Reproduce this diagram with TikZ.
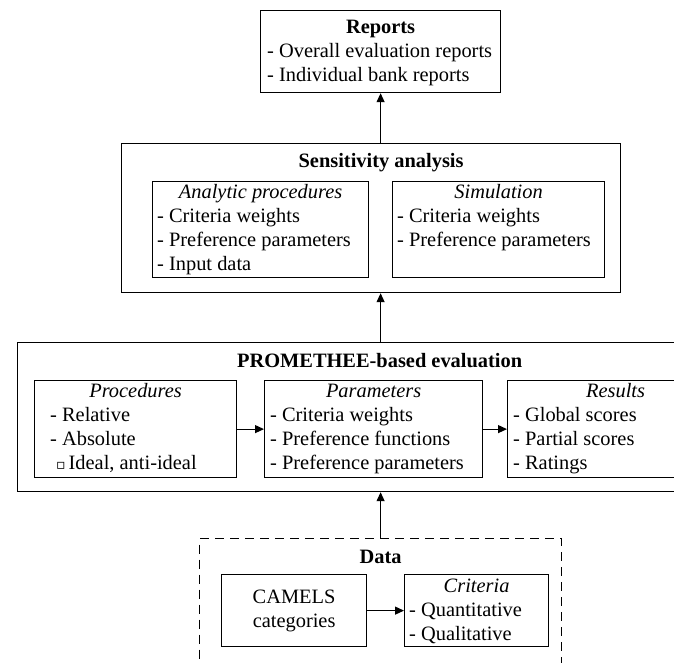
\documentclass[tikz,border=0pt]{standalone}
\usepackage{fontspec}
\setmainfont{Liberation Serif}
\newfontfamily\symfont{DejaVu Sans}
\usetikzlibrary{calc,arrows.meta}
\begin{document}
\begin{tikzpicture}[x=1pt,y=-1pt,
  every node/.style={font=\fontsize{20.4}{24}\selectfont, inner sep=0pt},
  box/.style={draw, line width=1.2pt, anchor=north west},
  dbox/.style={draw, line width=1.2pt, dash pattern=on 9pt off 6pt, anchor=north west},
  ttl/.style={anchor=base, font=\fontsize{20.4}{24}\selectfont\bfseries},
  sub/.style={anchor=base, font=\fontsize{20.4}{24}\selectfont\itshape},
  items/.style={anchor=north west, align=left},
  arr/.style={line width=1.2pt, -{Triangle[length=9pt,width=8pt]}}
]
\useasboundingbox (0,0) rectangle (674,662);
\clip (0,0) rectangle (674,662);

% Reports
\node[box, minimum width=240pt, minimum height=82pt] (rep) at (260,10) {};
\node[ttl] (repT) at ($(rep.north)+(0,23)$) {Reports};
\node[items] (repI) at ($(rep.north west)+(7,30.2)$) {\strut- Overall evaluation reports\\- Individual bank reports};

% Sensitivity analysis
\node[box, minimum width=499pt, minimum height=149pt] (sens) at (121,143) {};
\node[ttl] (sensT) at ($(sens.north)+(10,24)$) {Sensitivity analysis};
\node[box, minimum width=216pt, minimum height=96pt] (ana) at (152,181) {};
\node[sub] (anaT) at ($(ana.north)+(0,17)$) {Analytic procedures};
\node[items] (anaI) at ($(ana.north west)+(5,24.2)$) {\strut- Criteria weights\\- Preference parameters\\- Input data};
\node[box, minimum width=212pt, minimum height=96pt] (sim) at (392,181) {};
\node[sub] (simT) at ($(sim.north)+(0,17)$) {Simulation};
\node[items] (simI) at ($(sim.north west)+(5,24.2)$) {\strut- Criteria weights\\- Preference parameters};

% PROMETHEE
\node[box, minimum width=728pt, minimum height=149pt] (prom) at (17,342) {};
\node[ttl] (promT) at ($(prom.north)+(-2,25)$) {PROMETHEE-based evaluation};
\node[box, minimum width=202pt, minimum height=97pt] (proc) at (34,380) {};
\node[sub] (procT) at ($(proc.north)+(0,17)$) {Procedures};
\node[items] (procI) at ($(proc.north west)+(16,24.2)$) {\strut- Relative\\- Absolute\\\hspace*{6pt}{\symfont\fontsize{14}{24}\selectfont ▫}\hspace*{3pt}Ideal, anti-ideal};
\node[box, minimum width=218pt, minimum height=97pt] (par) at (264,380) {};
\node[sub] (parT) at ($(par.north)+(0,17)$) {Parameters};
\node[items] (parI) at ($(par.north west)+(6,24.2)$) {\strut- Criteria weights\\- Preference functions\\- Preference parameters};
\node[box, minimum width=216pt, minimum height=97pt] (res) at (507,380) {};
\node[sub] (resT) at ($(res.north)+(0,17)$) {Results};
\node[items] (resI) at ($(res.north west)+(6,24.2)$) {\strut- Global scores\\- Partial scores\\- Ratings};

% Data
\node[dbox, minimum width=362pt, minimum height=200pt] (data) at (199,538) {};
\node[ttl] (dataT) at ($(data.north)+(0,25)$) {Data};
\node[box, minimum width=145pt, minimum height=72pt] (cam) at (221,574) {};
\node[align=center] (camT) at (cam.center) {CAMELS\\categories};
\node[box, minimum width=144pt, minimum height=72pt] (cri) at (404,574) {};
\node[sub] (criT) at ($(cri.north)+(0,18)$) {Criteria};
\node[items] (criI) at ($(cri.north west)+(5,25.2)$) {\strut- Quantitative\\- Qualitative};

% Arrows
\draw[arr] (sens.north -| rep.south) -- (rep.south);
\draw[arr] (prom.north -| rep.south) -- (sens.south -| rep.south);
\draw[arr] (data.north) -- (data.north |- prom.south);
\draw[arr] (proc.east) -- (par.west);
\draw[arr] (par.east) -- (res.west);
\draw[arr] (cam.east) -- (cri.west);
\end{tikzpicture}
\end{document}
